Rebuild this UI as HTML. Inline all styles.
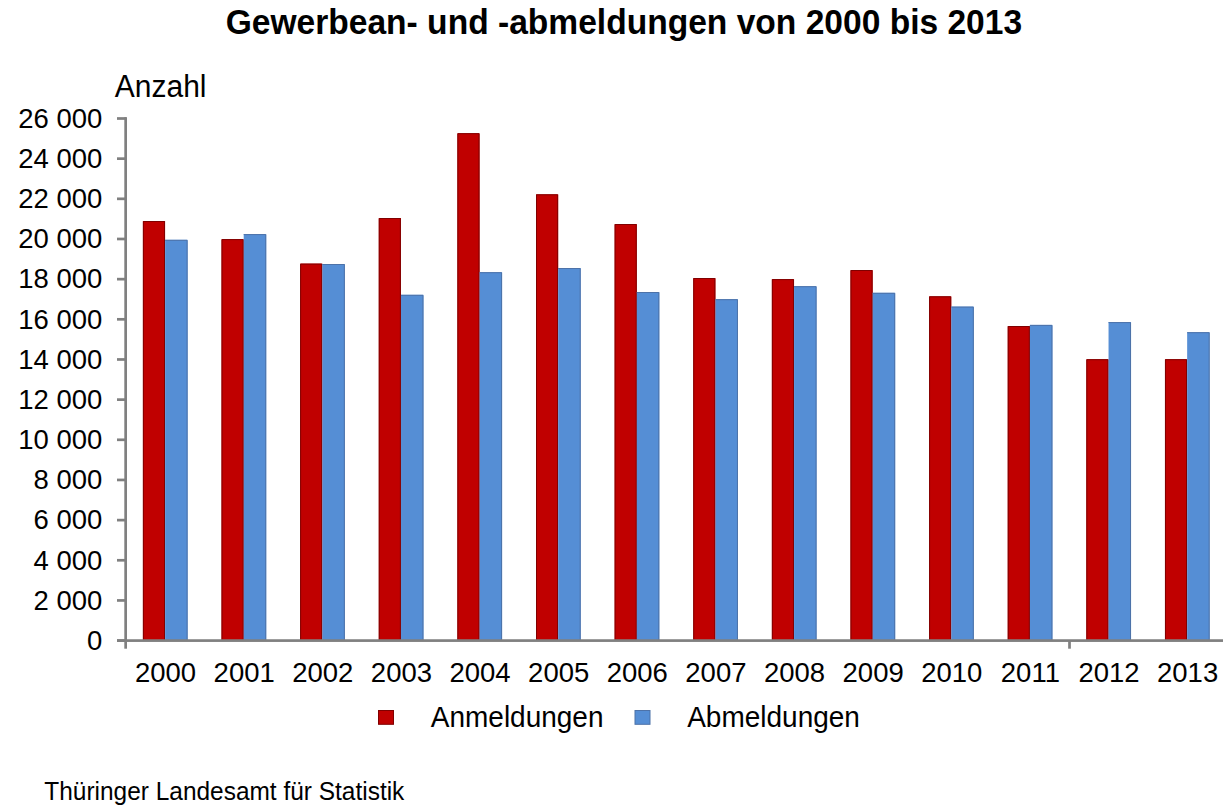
<!DOCTYPE html>
<html><head><meta charset="utf-8">
<style>
html,body{margin:0;padding:0;background:#fff;}
body{width:1223px;height:808px;overflow:hidden;position:relative;}
svg{position:absolute;left:0;top:0;}
text{font-family:"Liberation Sans",sans-serif;fill:#000;}
.yl{font-size:27.5px;}
.t{font-size:33.57px;font-weight:bold;}
.az{font-size:30px;}
.lg{font-size:28px;}
.ft{font-size:24.45px;}
</style></head><body>
<svg width="1223" height="808" viewBox="0 0 1223 808">
<g transform="translate(623.90,33.90) scale(1,1.055)"><text x="0" y="0" class="t" text-anchor="middle">Gewerbean- und -abmeldungen von 2000 bis 2013</text></g>
<g transform="translate(114.80,96.90) scale(1,1.07)"><text x="0" y="0" class="az" text-anchor="start">Anzahl</text></g>
<rect x="142.90" y="221.00" width="22.2" height="419.60" fill="#C00000"/>
<path d="M143.40 640.60V221.50H164.50V640.60" stroke="#800000" stroke-width="1" fill="none"/>
<rect x="165.10" y="239.80" width="22.5" height="400.80" fill="#558ED5"/>
<path d="M165.10 240.30H187.10V640.60" stroke="#4d72a8" stroke-width="1" fill="none"/>
<rect x="221.52" y="239.10" width="22.2" height="401.50" fill="#C00000"/>
<path d="M222.02 640.60V239.60H243.12V640.60" stroke="#800000" stroke-width="1" fill="none"/>
<rect x="243.72" y="234.10" width="22.5" height="406.50" fill="#558ED5"/>
<path d="M243.72 234.60H265.72V640.60" stroke="#4d72a8" stroke-width="1" fill="none"/>
<rect x="300.14" y="263.60" width="22.2" height="377.00" fill="#C00000"/>
<path d="M300.64 640.60V264.10H321.74V640.60" stroke="#800000" stroke-width="1" fill="none"/>
<rect x="322.34" y="264.00" width="22.5" height="376.60" fill="#558ED5"/>
<path d="M322.34 264.50H344.34V640.60" stroke="#4d72a8" stroke-width="1" fill="none"/>
<rect x="378.76" y="218.00" width="22.2" height="422.60" fill="#C00000"/>
<path d="M379.26 640.60V218.50H400.36V640.60" stroke="#800000" stroke-width="1" fill="none"/>
<rect x="400.96" y="294.80" width="22.5" height="345.80" fill="#558ED5"/>
<path d="M400.96 295.30H422.96V640.60" stroke="#4d72a8" stroke-width="1" fill="none"/>
<rect x="457.38" y="133.20" width="22.2" height="507.40" fill="#C00000"/>
<path d="M457.88 640.60V133.70H478.98V640.60" stroke="#800000" stroke-width="1" fill="none"/>
<rect x="479.58" y="272.20" width="22.5" height="368.40" fill="#558ED5"/>
<path d="M479.58 272.70H501.58V640.60" stroke="#4d72a8" stroke-width="1" fill="none"/>
<rect x="536.00" y="194.30" width="22.2" height="446.30" fill="#C00000"/>
<path d="M536.50 640.60V194.80H557.60V640.60" stroke="#800000" stroke-width="1" fill="none"/>
<rect x="558.20" y="268.00" width="22.5" height="372.60" fill="#558ED5"/>
<path d="M558.20 268.50H580.20V640.60" stroke="#4d72a8" stroke-width="1" fill="none"/>
<rect x="614.62" y="224.00" width="22.2" height="416.60" fill="#C00000"/>
<path d="M615.12 640.60V224.50H636.22V640.60" stroke="#800000" stroke-width="1" fill="none"/>
<rect x="636.82" y="292.00" width="22.5" height="348.60" fill="#558ED5"/>
<path d="M636.82 292.50H658.82V640.60" stroke="#4d72a8" stroke-width="1" fill="none"/>
<rect x="693.24" y="278.00" width="22.2" height="362.60" fill="#C00000"/>
<path d="M693.74 640.60V278.50H714.84V640.60" stroke="#800000" stroke-width="1" fill="none"/>
<rect x="715.44" y="299.20" width="22.5" height="341.40" fill="#558ED5"/>
<path d="M715.44 299.70H737.44V640.60" stroke="#4d72a8" stroke-width="1" fill="none"/>
<rect x="771.86" y="279.10" width="22.2" height="361.50" fill="#C00000"/>
<path d="M772.36 640.60V279.60H793.46V640.60" stroke="#800000" stroke-width="1" fill="none"/>
<rect x="794.06" y="286.20" width="22.5" height="354.40" fill="#558ED5"/>
<path d="M794.06 286.70H816.06V640.60" stroke="#4d72a8" stroke-width="1" fill="none"/>
<rect x="850.48" y="270.00" width="22.2" height="370.60" fill="#C00000"/>
<path d="M850.98 640.60V270.50H872.08V640.60" stroke="#800000" stroke-width="1" fill="none"/>
<rect x="872.68" y="292.80" width="22.5" height="347.80" fill="#558ED5"/>
<path d="M872.68 293.30H894.68V640.60" stroke="#4d72a8" stroke-width="1" fill="none"/>
<rect x="929.10" y="296.30" width="22.2" height="344.30" fill="#C00000"/>
<path d="M929.60 640.60V296.80H950.70V640.60" stroke="#800000" stroke-width="1" fill="none"/>
<rect x="951.30" y="306.60" width="22.5" height="334.00" fill="#558ED5"/>
<path d="M951.30 307.10H973.30V640.60" stroke="#4d72a8" stroke-width="1" fill="none"/>
<rect x="1007.72" y="326.00" width="22.2" height="314.60" fill="#C00000"/>
<path d="M1008.22 640.60V326.50H1029.32V640.60" stroke="#800000" stroke-width="1" fill="none"/>
<rect x="1029.92" y="324.90" width="22.5" height="315.70" fill="#558ED5"/>
<path d="M1029.92 325.40H1051.92V640.60" stroke="#4d72a8" stroke-width="1" fill="none"/>
<rect x="1086.34" y="359.20" width="22.2" height="281.40" fill="#C00000"/>
<path d="M1086.84 640.60V359.70H1107.94V640.60" stroke="#800000" stroke-width="1" fill="none"/>
<rect x="1108.54" y="322.10" width="22.5" height="318.50" fill="#558ED5"/>
<path d="M1108.54 322.60H1130.54V640.60" stroke="#4d72a8" stroke-width="1" fill="none"/>
<rect x="1164.96" y="359.20" width="22.2" height="281.40" fill="#C00000"/>
<path d="M1165.46 640.60V359.70H1186.56V640.60" stroke="#800000" stroke-width="1" fill="none"/>
<rect x="1187.16" y="332.20" width="22.5" height="308.40" fill="#558ED5"/>
<path d="M1187.16 332.70H1209.16V640.60" stroke="#4d72a8" stroke-width="1" fill="none"/>
<rect x="124.3" y="117.15" width="2.7" height="531.55" fill="#808080"/>
<rect x="117" y="639.25" width="1106" height="2.7" fill="#808080"/>
<rect x="1068.15" y="640.60" width="2.7" height="8.1" fill="#808080"/>
<rect x="117" y="639.25" width="9" height="2.7" fill="#808080"/>
<g transform="translate(102.30,649.90) scale(1,1.035)"><text x="0" y="0" class="yl" text-anchor="end">0</text></g>
<rect x="117" y="599.09" width="9" height="2.7" fill="#808080"/>
<g transform="translate(102.30,609.74) scale(1,1.035)"><text x="0" y="0" class="yl" text-anchor="end">2 000</text></g>
<rect x="117" y="558.93" width="9" height="2.7" fill="#808080"/>
<g transform="translate(102.30,569.58) scale(1,1.035)"><text x="0" y="0" class="yl" text-anchor="end">4 000</text></g>
<rect x="117" y="518.77" width="9" height="2.7" fill="#808080"/>
<g transform="translate(102.30,529.42) scale(1,1.035)"><text x="0" y="0" class="yl" text-anchor="end">6 000</text></g>
<rect x="117" y="478.60" width="9" height="2.7" fill="#808080"/>
<g transform="translate(102.30,489.25) scale(1,1.035)"><text x="0" y="0" class="yl" text-anchor="end">8 000</text></g>
<rect x="117" y="438.44" width="9" height="2.7" fill="#808080"/>
<g transform="translate(102.30,449.09) scale(1,1.035)"><text x="0" y="0" class="yl" text-anchor="end">10 000</text></g>
<rect x="117" y="398.28" width="9" height="2.7" fill="#808080"/>
<g transform="translate(102.30,408.93) scale(1,1.035)"><text x="0" y="0" class="yl" text-anchor="end">12 000</text></g>
<rect x="117" y="358.12" width="9" height="2.7" fill="#808080"/>
<g transform="translate(102.30,368.77) scale(1,1.035)"><text x="0" y="0" class="yl" text-anchor="end">14 000</text></g>
<rect x="117" y="317.96" width="9" height="2.7" fill="#808080"/>
<g transform="translate(102.30,328.61) scale(1,1.035)"><text x="0" y="0" class="yl" text-anchor="end">16 000</text></g>
<rect x="117" y="277.80" width="9" height="2.7" fill="#808080"/>
<g transform="translate(102.30,288.45) scale(1,1.035)"><text x="0" y="0" class="yl" text-anchor="end">18 000</text></g>
<rect x="117" y="237.63" width="9" height="2.7" fill="#808080"/>
<g transform="translate(102.30,248.28) scale(1,1.035)"><text x="0" y="0" class="yl" text-anchor="end">20 000</text></g>
<rect x="117" y="197.47" width="9" height="2.7" fill="#808080"/>
<g transform="translate(102.30,208.12) scale(1,1.035)"><text x="0" y="0" class="yl" text-anchor="end">22 000</text></g>
<rect x="117" y="157.31" width="9" height="2.7" fill="#808080"/>
<g transform="translate(102.30,167.96) scale(1,1.035)"><text x="0" y="0" class="yl" text-anchor="end">24 000</text></g>
<rect x="117" y="117.15" width="9" height="2.7" fill="#808080"/>
<g transform="translate(102.30,127.80) scale(1,1.035)"><text x="0" y="0" class="yl" text-anchor="end">26 000</text></g>
<g transform="translate(165.56,681.90) scale(1,1.035)"><text x="0" y="0" class="yl" text-anchor="middle">2000</text></g>
<g transform="translate(244.18,681.90) scale(1,1.035)"><text x="0" y="0" class="yl" text-anchor="middle">2001</text></g>
<g transform="translate(322.80,681.90) scale(1,1.035)"><text x="0" y="0" class="yl" text-anchor="middle">2002</text></g>
<g transform="translate(401.42,681.90) scale(1,1.035)"><text x="0" y="0" class="yl" text-anchor="middle">2003</text></g>
<g transform="translate(480.04,681.90) scale(1,1.035)"><text x="0" y="0" class="yl" text-anchor="middle">2004</text></g>
<g transform="translate(558.66,681.90) scale(1,1.035)"><text x="0" y="0" class="yl" text-anchor="middle">2005</text></g>
<g transform="translate(637.28,681.90) scale(1,1.035)"><text x="0" y="0" class="yl" text-anchor="middle">2006</text></g>
<g transform="translate(715.90,681.90) scale(1,1.035)"><text x="0" y="0" class="yl" text-anchor="middle">2007</text></g>
<g transform="translate(794.52,681.90) scale(1,1.035)"><text x="0" y="0" class="yl" text-anchor="middle">2008</text></g>
<g transform="translate(873.14,681.90) scale(1,1.035)"><text x="0" y="0" class="yl" text-anchor="middle">2009</text></g>
<g transform="translate(951.76,681.90) scale(1,1.035)"><text x="0" y="0" class="yl" text-anchor="middle">2010</text></g>
<g transform="translate(1030.38,681.90) scale(1,1.035)"><text x="0" y="0" class="yl" text-anchor="middle">2011</text></g>
<g transform="translate(1109.00,681.90) scale(1,1.035)"><text x="0" y="0" class="yl" text-anchor="middle">2012</text></g>
<g transform="translate(1187.62,681.90) scale(1,1.035)"><text x="0" y="0" class="yl" text-anchor="middle">2013</text></g>
<rect x="378.5" y="710.5" width="15" height="13.8" fill="#C00000" stroke="#800000" stroke-width="1"/>
<g transform="translate(430.80,726.80) scale(1,1.04)"><text x="0" y="0" class="lg" text-anchor="start">Anmeldungen</text></g>
<rect x="635" y="710.5" width="15" height="13.8" fill="#558ED5" stroke="#4d72a8" stroke-width="1"/>
<g transform="translate(687.20,726.80) scale(1,1.04)"><text x="0" y="0" class="lg" text-anchor="start">Abmeldungen</text></g>
<g transform="translate(44.30,799.60) scale(1,1.035)"><text x="0" y="0" class="ft" text-anchor="start">Thüringer Landesamt für Statistik</text></g>
</svg>
</body></html>
